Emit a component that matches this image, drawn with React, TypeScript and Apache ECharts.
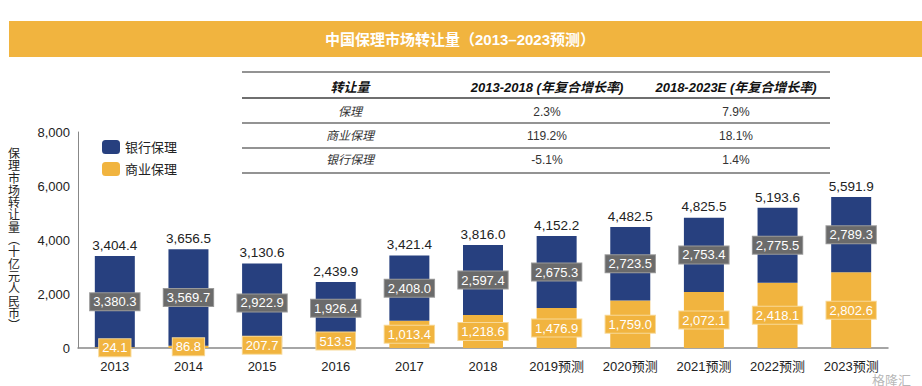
import React, { useEffect, useRef } from "react";
import * as echarts from "echarts";

const categories = ["2013", "2014", "2015", "2016", "2017", "2018", "2019预测", "2020预测", "2021预测", "2022预测", "2023预测"];
const bankValues = [3380.3, 3569.7, 2922.9, 1926.4, 2408.0, 2597.4, 2675.3, 2723.5, 2753.4, 2775.5, 2789.3];
const commercialValues = [24.1, 86.8, 207.7, 513.5, 1013.4, 1218.6, 1476.9, 1759.0, 2072.1, 2418.1, 2802.6];
const totalValues = [3404.4, 3656.5, 3130.6, 2439.9, 3421.4, 3816.0, 4152.2, 4482.5, 4825.5, 5193.6, 5591.9];

const tableHeader = ["转让量", "2013-2018 (年复合增长率)", "2018-2023E (年复合增长率)"];
const tableRows = [
  ["保理", "2.3%", "7.9%"],
  ["商业保理", "119.2%", "18.1%"],
  ["银行保理", "-5.1%", "1.4%"],
];

const NAVY = "#27407f";
const ORANGE = "#f1b43f";
const FONT = "'Liberation Sans', 'Noto Sans CJK SC', sans-serif";

const fmt = (v: number) =>
  v.toLocaleString("en-US", { minimumFractionDigits: 1, maximumFractionDigits: 1 });

export default function App() {
  const ref = useRef<HTMLDivElement>(null);
  useEffect(() => {
    if (!ref.current) return;
    const chart = echarts.init(ref.current, null, { renderer: "svg" });

    const colX = [350, 547, 736];
    const rowY = [87, 112, 136, 160];
    const lineY = [72, 98, 123, 148, 173];
    const graphics: any[] = [
      {
        type: "rect",
        shape: { x: 9, y: 21, width: 913, height: 36 },
        style: { fill: ORANGE },
      },
      {
        type: "text",
        x: 460,
        y: 39,
        style: {
          text: "中国保理市场转让量（2013–2023预测）",
          fill: "#fff",
          font: `bold 15px ${FONT}`,
          align: "center",
          verticalAlign: "middle",
        },
      },
    ];
    lineY.forEach((y, i) => {
      graphics.push({
        type: "line",
        shape: { x1: 242, y1: y, x2: 830, y2: y },
        style: { stroke: "#6f6f6f", lineWidth: i === 1 ? 2 : 1.5 },
      });
    });
    tableHeader.forEach((t, i) => {
      graphics.push({
        type: "text",
        x: colX[i],
        y: rowY[0],
        style: {
          text: t,
          fill: "#111",
          font: `italic bold 13px ${FONT}`,
          align: "center",
          verticalAlign: "middle",
        },
      });
    });
    tableRows.forEach((row, r) => {
      row.forEach((t, i) => {
        graphics.push({
          type: "text",
          x: colX[i],
          y: rowY[r + 1],
          style: {
            text: t,
            fill: "#333",
            font: `${i === 0 ? "italic " : ""}12px ${FONT}`,
            align: "center",
            verticalAlign: "middle",
          },
        });
      });
    });
    graphics.push({
      type: "text",
      x: 872,
      y: 380,
      style: {
        text: "格隆汇",
        fill: "rgba(170,170,170,0.85)",
        font: `13px ${FONT}`,
        align: "left",
        verticalAlign: "middle",
      },
    });

    chart.setOption({
      animation: false,
      textStyle: { fontFamily: FONT },
      grid: { left: 78, right: 34, top: 132, bottom: 38 },
      legend: {
        left: 97,
        top: 135,
        orient: "vertical",
        itemWidth: 18,
        itemHeight: 14,
        itemGap: 8,
        data: ["银行保理", "商业保理"],
        textStyle: { fontSize: 13, color: "#222" },
      },
      xAxis: {
        type: "category",
        data: categories,
        axisLine: { lineStyle: { color: "#888", width: 1.5 } },
        axisTick: { show: false },
        axisLabel: { color: "#222", fontSize: 13, margin: 12 },
      },
      yAxis: {
        type: "value",
        min: 0,
        max: 8000,
        interval: 2000,
        name: "保\n理\n市\n场\n转\n让\n量\n︵\n十\n亿\n元\n人\n民\n币\n︶",
        nameLocation: "middle",
        nameRotate: 0,
        nameGap: 58,
        nameTextStyle: { fontSize: 12, color: "#222", lineHeight: 12.3, padding: [3, 0, 0, 0] },
        axisLine: { show: true, lineStyle: { color: "#888", width: 1 } },
        axisTick: { show: false },
        splitLine: { show: false },
        axisLabel: {
          color: "#222",
          fontSize: 13,
          formatter: (v: number) => v.toLocaleString("en-US"),
        },
      },
      series: [
        {
          name: "商业保理",
          type: "bar",
          stack: "s",
          barWidth: 40,
          data: commercialValues,
          itemStyle: { color: ORANGE },
          label: {
            show: true,
            position: "inside",
            formatter: (p: any) => fmt(p.value),
            color: "#fff",
            fontSize: 13,
            backgroundColor: ORANGE,
            borderColor: "#f8d998",
            borderWidth: 1,
            padding: [2, 3],
          },
        },
        {
          name: "银行保理",
          type: "bar",
          stack: "s",
          barWidth: 40,
          data: bankValues,
          itemStyle: { color: NAVY },
          label: {
            show: true,
            position: "inside",
            formatter: (p: any) => fmt(p.value),
            color: "#fff",
            fontSize: 13,
            backgroundColor: "#6b6b6b",
            borderColor: "#9a9a9a",
            borderWidth: 1,
            padding: [2, 3],
          },
        },
        {
          name: "合计",
          type: "bar",
          barWidth: 40,
          barGap: "-100%",
          data: totalValues,
          itemStyle: { color: "rgba(0,0,0,0)" },
          silent: true,
          z: 1,
          label: {
            show: true,
            position: "top",
            distance: 4,
            formatter: (p: any) => fmt(p.value),
            color: "#222",
            fontSize: 13.5,
          },
        },
      ],
      graphic: graphics,
    });
    return () => chart.dispose();
  }, []);
  return (
    <div
      ref={ref}
      style={{ position: "fixed", left: 0, top: 0, width: 922, height: 386, background: "#fff" }}
    />
  );
}
